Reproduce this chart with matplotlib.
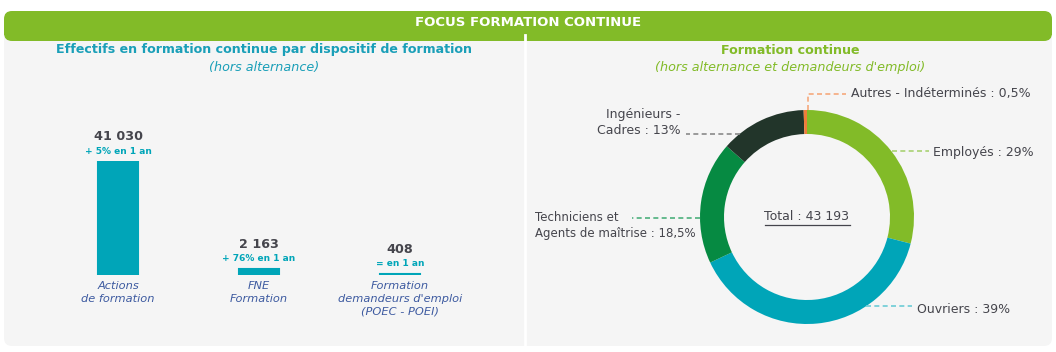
import numpy as np
import matplotlib.pyplot as plt
from matplotlib.patches import FancyBboxPatch, Rectangle

# --- data ---
bar_labels = ["Actions\nde formation", "FNE\nFormation", "Formation\ndemandeurs d'emploi\n(POEC - POEI)"]
bar_values = [41030, 2163, 408]
bar_value_text = ["41 030", "2 163", "408"]
bar_change_text = ["+ 5% en 1 an", "+ 76% en 1 an", "= en 1 an"]

pie_labels = ["Employés : 29%", "Ouvriers : 39%", "Techniciens et\nAgents de maîtrise : 18,5%",
              "Ingénieurs -\nCadres : 13%", "Autres - Indéterminés : 0,5%"]
pie_values = [29, 39, 18.5, 13, 0.5]
total_text = "Total : 43 193"

# --- style ---
GREEN = "#82bb28"
TEAL = "#00a5b8"
DKGREEN = "#068a42"
DARK = "#22352a"
ORANGE = "#f07c3a"
PANEL = "#f5f5f5"
TXT = "#45454c"
BLUE_IT = "#3d5aa0"
pie_colors = [GREEN, TEAL, DKGREEN, DARK, ORANGE]
lead_colors = ["#a9d273", "#6ccbd5", "#4cb07c", "#8a8a8a", "#f5a97c"]

plt.rcParams['font.family'] = ['DejaVu Sans']

W, H = 1056, 352
fig = plt.figure(figsize=(W / 100, H / 100), dpi=100)
fig.patch.set_facecolor("white")

# background / frame in pixel coords
bg = fig.add_axes([0, 0, 1, 1], zorder=0)
bg.set_xlim(0, W)
bg.set_ylim(H, 0)
bg.axis("off")
bg.add_patch(FancyBboxPatch((4, 11), 1048, 335, boxstyle="round,pad=0,rounding_size=8",
                            fc=PANEL, ec="none"))
bg.add_patch(FancyBboxPatch((4, 11), 1048, 30, boxstyle="round,pad=0,rounding_size=8",
                            fc=GREEN, ec="none"))
bg.add_patch(Rectangle((4, 25), 1048, 10, fc=GREEN, ec="none"))
bg.plot([525, 525], [35, 346], color="white", lw=2)
bg.text(528, 23, "FOCUS FORMATION CONTINUE", color="white", fontsize=9.5, fontweight="bold",
        ha="center", va="center")
bg.text(264, 50, "Effectifs en formation continue par dispositif de formation", color="#1a9fb8",
        fontsize=9.05, fontweight="bold", ha="center", va="center")
bg.text(264, 67, "(hors alternance)", color="#1a9fb8", fontsize=9.2, style="italic",
        ha="center", va="center")
bg.text(790, 50, "Formation continue", color=GREEN, fontsize=9.1, fontweight="bold",
        ha="center", va="center")
bg.text(790, 67, "(hors alternance et demandeurs d'emploi)", color=GREEN, fontsize=9.2,
        style="italic", ha="center", va="center")

# --- bar chart ---
ax = fig.add_axes([47.5 / W, (H - 275) / H, 423 / W, 114 / H], zorder=1)
x = np.arange(len(bar_values))
ax.bar(x, bar_values, width=0.277, color=TEAL, edgecolor=TEAL, linewidth=1.5)
ax.set_xlim(-0.5, 2.5)
ax.set_ylim(0, max(bar_values))
ax.axis("off")
for i, v in enumerate(bar_values):
    ax.annotate(bar_value_text[i], (i, v), xytext=(0, 24), textcoords="offset pixels",
                ha="center", va="center", fontsize=9.2, fontweight="bold", color=TXT,
                annotation_clip=False)
    ax.annotate(bar_change_text[i], (i, v), xytext=(0, 10), textcoords="offset pixels",
                ha="center", va="center", fontsize=6.5, fontweight="bold", color=TEAL,
                annotation_clip=False)
    ax.annotate(bar_labels[i], (i, 0), xytext=(0, -6), textcoords="offset pixels",
                ha="center", va="top", fontsize=8.2, style="italic", color=BLUE_IT,
                linespacing=1.35, annotation_clip=False)

# --- donut ---
R = 107
pax = fig.add_axes([(807 - R) / W, (H - 217 - R) / H, 2 * R / W, 2 * R / H], zorder=1)
pax.pie(pie_values, colors=pie_colors, startangle=90, counterclock=False,
        wedgeprops=dict(width=24 / R, edgecolor="none"))
pax.set_xlim(-1, 1)
pax.set_ylim(-1, 1)

t = pax.text(0, 0, total_text, ha="center", va="center", fontsize=9, color=TXT)

# leader lines: anchor angle on ring, elbow / end point, text position, alignment, size
leaders = [
    dict(ang=37.8, end=(1.14, None), txt=(1.18, 0.60), ha="left", fs=9),
    dict(ang=-56.5, end=(0.98, None), txt=(1.03, -0.86), ha="left", fs=9),
    dict(ang=180.5, end=(-1.64, None), txt=(-2.54, -0.08), ha="left", fs=8.5),
    dict(ang=129.0, end=(-1.13, None), txt=(-1.18, 0.88), ha="right", fs=9),
    dict(ang=89.3, end=(0.36, 1.15), txt=(0.41, 1.15), ha="left", fs=9),
]
for lab, col, ld in zip(pie_labels, lead_colors, leaders):
    a = np.deg2rad(ld["ang"])
    x0, y0 = np.cos(a), np.sin(a)
    ex, ey = ld["end"]
    if ey is None:
        xs, ys = [x0, ex], [y0, y0]
    else:
        xs, ys = [x0, x0, ex], [y0, ey, ey]
    pax.plot(xs, ys, ls=(0, (3, 2)), color=col, lw=1.2, clip_on=False)
    pax.text(ld["txt"][0], ld["txt"][1], lab, ha=ld["ha"], va="center", fontsize=ld["fs"],
             color=TXT, linespacing=1.3, multialignment=ld["ha"], clip_on=False)

# underline the total
fig.canvas.draw()
bb = t.get_window_extent()
bg.plot([bb.x0, bb.x1], [H - bb.y0 + 1, H - bb.y0 + 1], color=TXT, lw=0.9)

fig.savefig("out.png", dpi=100, facecolor="white")
